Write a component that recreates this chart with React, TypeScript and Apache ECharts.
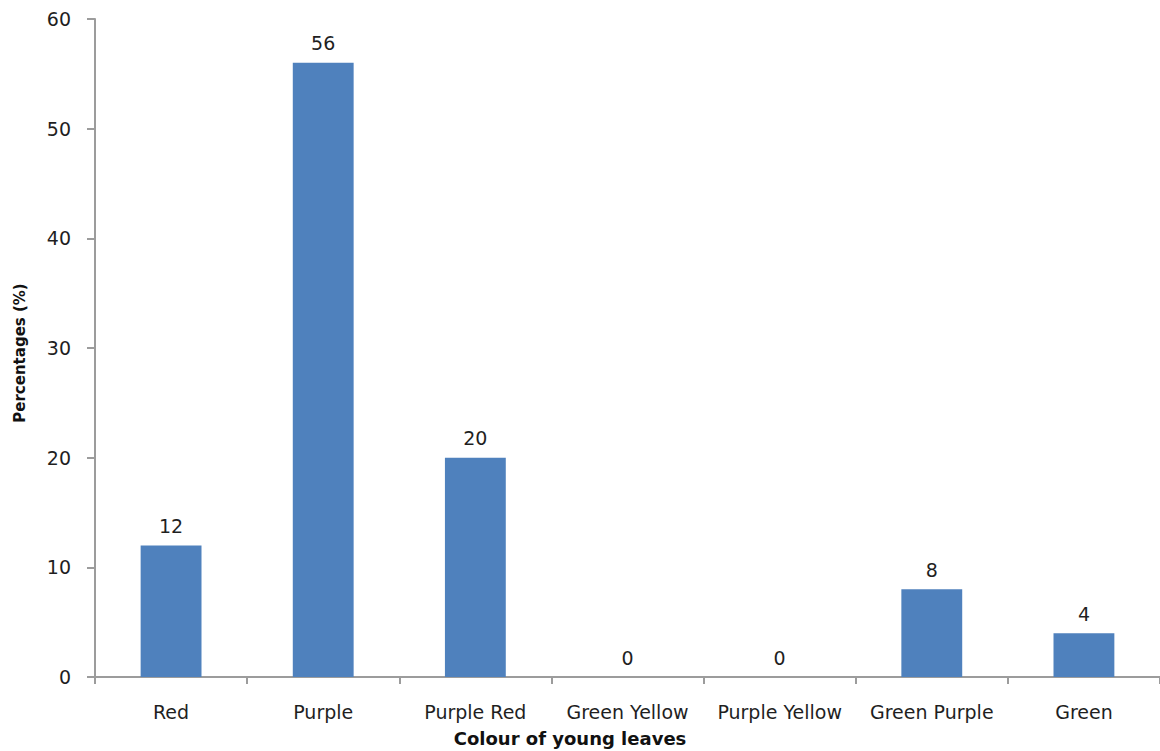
import React, { useEffect, useRef } from "react";
import * as echarts from "echarts";

// Leaf colour classes and their share of the sample (%)
const categories = [
  "Red",
  "Purple",
  "Purple Red",
  "Green Yellow",
  "Purple Yellow",
  "Green Purple",
  "Green",
];
const percentages = [12, 56, 20, 0, 0, 8, 4];

const yMin = 0;
const yMax = 60;
const yStep = 10;

const xTitle = "Colour of young leaves";
const yTitle = "Percentages (%)";

const FONT = "'DejaVu Sans', Verdana, sans-serif";
const AXIS_GREY = "#9c9c9c";
const TEXT = "#1f1f1f";

export default function App() {
  const ref = useRef<HTMLDivElement>(null);

  useEffect(() => {
    if (!ref.current) return;
    const chart = echarts.init(ref.current, null, { renderer: "svg" });
    chart.setOption({
      animation: false,
      backgroundColor: "#ffffff",
      grid: { left: 95, top: 19, width: 1071, height: 658, containLabel: false },
      xAxis: {
        type: "category",
        data: categories,
        axisLine: { lineStyle: { color: AXIS_GREY, width: 2 } },
        axisTick: { show: true, length: 7, alignWithLabel: false, lineStyle: { color: AXIS_GREY, width: 2 } },
        axisLabel: {
          color: TEXT,
          fontFamily: FONT,
          fontSize: 19,
          margin: 25,
          interval: 0,
        },
        splitLine: { show: false },
      },
      yAxis: {
        type: "value",
        min: yMin,
        max: yMax,
        interval: yStep,
        axisLine: { show: true, lineStyle: { color: AXIS_GREY, width: 2 } },
        axisTick: { show: true, length: 8, lineStyle: { color: AXIS_GREY, width: 2 } },
        axisLabel: {
          color: TEXT,
          fontFamily: FONT,
          fontSize: 19,
          margin: 24,
        },
        splitLine: { show: false },
      },
      series: [
        {
          type: "bar",
          data: percentages,
          barWidth: "40%",
          itemStyle: {
            color: "#4f81bd",
          },
          label: {
            show: true,
            position: "top",
            distance: 10,
            color: TEXT,
            fontFamily: FONT,
            fontSize: 19,
          },
        },
      ],
      graphic: [
        {
          type: "text",
          x: 570,
          y: 738,
          style: {
            text: xTitle,
            fill: "#111111",
            font: `bold 18px ${FONT}`,
            textAlign: "center",
            textVerticalAlign: "middle",
          },
        },
        {
          type: "text",
          x: 20,
          y: 353,
          rotation: Math.PI / 2,
          style: {
            text: yTitle,
            fill: "#111111",
            font: `bold 15px ${FONT}`,
            textAlign: "center",
            textVerticalAlign: "middle",
          },
        },
      ],
    });
    return () => chart.dispose();
  }, []);

  return (
    <div
      ref={ref}
      style={{ position: "absolute", left: 0, top: 0, width: 1160, height: 751 }}
    />
  );
}
